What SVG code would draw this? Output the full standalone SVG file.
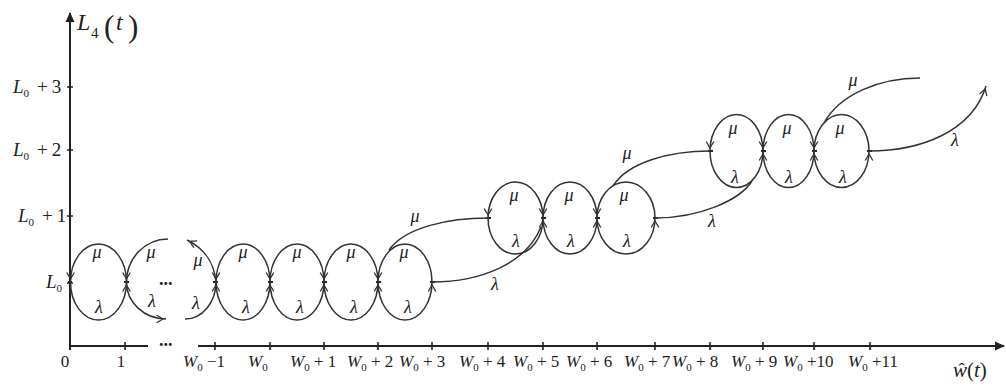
<svg xmlns="http://www.w3.org/2000/svg" width="1006" height="390" viewBox="0 0 1006 390" font-family="'Liberation Serif', 'Times New Roman', serif">
<style>
text{font-family:'Liberation Serif','Times New Roman',serif;fill:#222}
.it{font-style:italic}
.lab{font-size:17px}
.ylab{font-size:19px}
.sub{font-size:11px}
.gr{font-size:18px;font-style:italic}
.axis{stroke:#222;stroke-width:2;fill:none}
.tick{stroke:#222;stroke-width:1.6;fill:none}
.arc{stroke:#333;stroke-width:1.5;fill:none}
.arr{marker-end:url(#ah)}
.pt{stroke:#222;stroke-width:2;fill:none}
.dots{font-size:18px;font-weight:bold;font-style:normal}
</style>
<defs>
<marker id="ah" viewBox="-9 -5 12 10" refX="3" refY="0" markerWidth="12" markerHeight="10" markerUnits="userSpaceOnUse" orient="auto">
<path d="M-6.5,-3.8 L0,0 L-6.5,3.8" fill="none" stroke="#333" stroke-width="1.3"/>
</marker>
<marker id="axh" viewBox="0 0 10 10" refX="9" refY="5" markerWidth="11" markerHeight="10" markerUnits="userSpaceOnUse" orient="auto">
<path d="M0,0.5 L10,5 L0,9.5 Z" fill="#222"/>
</marker>
</defs>

<g id="axes">
<line class="axis" x1="70" y1="350" x2="70" y2="13" marker-end="url(#axh)"/>
<line class="axis" x1="70" y1="346" x2="148" y2="346"/>
<line class="axis" x1="198" y1="346" x2="1004" y2="346" marker-end="url(#axh)"/>
<text class="dots" x="159" y="346">...</text>
<g id="yticks">
<path class="tick" d="M67,87h6M67,150h6M67,216h6M67,283h6"/>
</g>
<g id="xticks">
<path class="tick" d="M70,342v8M125,342v8M215,342v8M270,342v8M324,342v8M378,342v8M432,342v8M488,342v8M543,342v8M597,342v8M655,342v8M710,342v8M763,342v8M814,342v8M870,342v8"/>
</g>
<text id="ylabel"><tspan x="77" y="30" class="it" font-size="24">L</tspan><tspan x="91" y="38" font-size="15">4</tspan><tspan x="104" y="37" font-size="31">(</tspan><tspan x="116" y="30" class="it" font-size="24">t</tspan><tspan x="128" y="37" font-size="31">)</tspan></text>
<text id="xlabel" x="953" y="377" font-size="21"><tspan class="it">ŵ</tspan><tspan>(</tspan><tspan class="it">t</tspan><tspan>)</tspan></text>
<g id="ylabels" class="ylab">
<text x="13" y="93"><tspan class="it">L</tspan><tspan class="sub" font-size="12" dy="4">0</tspan><tspan dy="-4" dx="8">+</tspan><tspan dx="4">3</tspan></text>
<text x="13" y="156"><tspan class="it">L</tspan><tspan class="sub" font-size="12" dy="4">0</tspan><tspan dy="-4" dx="8">+</tspan><tspan dx="4">2</tspan></text>
<text x="18" y="222"><tspan class="it">L</tspan><tspan class="sub" font-size="12" dy="4">0</tspan><tspan dy="-4" dx="8">+</tspan><tspan dx="4">1</tspan></text>
<text x="46" y="288"><tspan class="it">L</tspan><tspan class="sub" font-size="12" dy="4">0</tspan></text>
</g>
<g id="xlabels" class="lab">
<text x="65" y="367" text-anchor="middle">0</text>
<text x="121" y="367" text-anchor="middle">1</text>
<text x="183" y="367"><tspan class="it">W</tspan><tspan class="sub" dy="4">0</tspan><tspan dy="-4"> −1</tspan></text>
<text x="248" y="367"><tspan class="it">W</tspan><tspan class="sub" dy="4">0</tspan></text>
<text x="290" y="367"><tspan class="it">W</tspan><tspan class="sub" dy="4">0</tspan><tspan dy="-4"> + 1</tspan></text>
<text x="347" y="367"><tspan class="it">W</tspan><tspan class="sub" dy="4">0</tspan><tspan dy="-4"> + 2</tspan></text>
<text x="399" y="367"><tspan class="it">W</tspan><tspan class="sub" dy="4">0</tspan><tspan dy="-4"> + 3</tspan></text>
<text x="459" y="367"><tspan class="it">W</tspan><tspan class="sub" dy="4">0</tspan><tspan dy="-4"> + 4</tspan></text>
<text x="513" y="367"><tspan class="it">W</tspan><tspan class="sub" dy="4">0</tspan><tspan dy="-4"> + 5</tspan></text>
<text x="566" y="367"><tspan class="it">W</tspan><tspan class="sub" dy="4">0</tspan><tspan dy="-4"> + 6</tspan></text>
<text x="624" y="367"><tspan class="it">W</tspan><tspan class="sub" dy="4">0</tspan><tspan dy="-4"> + 7</tspan></text>
<text x="672" y="367"><tspan class="it">W</tspan><tspan class="sub" dy="4">0</tspan><tspan dy="-4"> + 8</tspan></text>
<text x="731" y="367"><tspan class="it">W</tspan><tspan class="sub" dy="4">0</tspan><tspan dy="-4"> + 9</tspan></text>
<text x="783" y="367"><tspan class="it">W</tspan><tspan class="sub" dy="4">0</tspan><tspan dy="-4"> +10</tspan></text>
<text x="848" y="367"><tspan class="it">W</tspan><tspan class="sub" dy="4">0</tspan><tspan dy="-4"> +11</tspan></text>
</g>
</g>

<g id="nodes">
<g id="s0"><path class="pt" d="M68,282h4"/></g>
<g id="s1"><path class="pt" d="M124,282h5"/></g>
<g id="sW0m1"><path class="pt" d="M213,282h5"/></g>
<g id="sW0"><path class="pt" d="M268,282h5"/></g>
<g id="sW0p1"><path class="pt" d="M322,282h5"/></g>
<g id="sW0p2"><path class="pt" d="M376,282h5"/></g>
<g id="sW0p3"><path class="pt" d="M430,282h5"/></g>
<g id="sW0p4"><path class="pt" d="M486,218h5"/></g>
<g id="sW0p5"><path class="pt" d="M541,218h5"/></g>
<g id="sW0p6"><path class="pt" d="M595,218h5"/></g>
<g id="sW0p7"><path class="pt" d="M653,218h5"/></g>
<g id="sW0p8"><path class="pt" d="M708,151h5"/></g>
<g id="sW0p9"><path class="pt" d="M761,151h5"/></g>
<g id="sW0p10"><path class="pt" d="M812,151h5"/></g>
<g id="sW0p11"><path class="pt" d="M867,151h5"/></g>
</g>

<g id="connectors">
<path class="arc arr" d="M126.5,282 A28,38 0 0 0 70.5,282"/>
<path class="arc arr" d="M70.5,282 A28,38 0 0 0 126.5,282"/>
<path class="arc arr" d="M168,239 A41.5,43 0 0 0 126.5,282"/>
<path class="arc arr" d="M126.5,282 A39.5,37 0 0 0 166,319"/>
<path class="arc arr" d="M216,282 C214,262 205,249 187,240"/>
<path class="arc arr" d="M185,319 A31,37 0 0 0 216,282"/>
<path class="arc arr" d="M270,282 A27,38 0 0 0 216,282"/>
<path class="arc arr" d="M216,282 A27,38 0 0 0 270,282"/>
<path class="arc arr" d="M324,282 A27,38 0 0 0 270,282"/>
<path class="arc arr" d="M270,282 A27,38 0 0 0 324,282"/>
<path class="arc arr" d="M378,282 A27,38 0 0 0 324,282"/>
<path class="arc arr" d="M324,282 A27,38 0 0 0 378,282"/>
<path class="arc arr" d="M432,282 A27,38 0 0 0 378,282"/>
<path class="arc arr" d="M378,282 A27,38 0 0 0 432,282"/>
<path class="arc" d="M488,218 C450,218 405,227 389,250"/>
<path class="arc" d="M432,282 C480,282 526,264 541,227"/>
<path class="arc arr" d="M543,218 A27.5,36 0 0 0 488,218"/>
<path class="arc arr" d="M488,218 A27.5,36 0 0 0 543,218"/>
<path class="arc arr" d="M597,218 A27,36 0 0 0 543,218"/>
<path class="arc arr" d="M543,218 A27,36 0 0 0 597,218"/>
<path class="arc arr" d="M655,218 A29,36 0 0 0 597,218"/>
<path class="arc arr" d="M597,218 A29,36 0 0 0 655,218"/>
<path class="arc" d="M710,151 C670,151 628,162 613,186"/>
<path class="arc" d="M655,218 C700,218 740,200 752,181"/>
<path class="arc arr" d="M763,151 A26.5,36.5 0 0 0 710,151"/>
<path class="arc arr" d="M710,151 A26.5,36.5 0 0 0 763,151"/>
<path class="arc arr" d="M814,151 A25.5,36.5 0 0 0 763,151"/>
<path class="arc arr" d="M763,151 A25.5,36.5 0 0 0 814,151"/>
<path class="arc arr" d="M869,151 A27.5,36.5 0 0 0 814,151"/>
<path class="arc arr" d="M814,151 A27.5,36.5 0 0 0 869,151"/>
<path class="arc" d="M920,78 C880,78 840,94 824,123"/>
<path class="arc arr" d="M869,151 C920,151 972,132 986,86"/>
</g>

<g id="rates" class="gr">
<text class="dots" x="159" y="285">...</text>
<text x="97" y="258" text-anchor="middle">μ</text>
<text x="99" y="313" text-anchor="middle">λ</text>
<text x="151" y="258" text-anchor="middle">μ</text>
<text x="152" y="307" text-anchor="middle">λ</text>
<text x="198" y="266" text-anchor="middle">μ</text>
<text x="196" y="309" text-anchor="middle">λ</text>
<text x="243" y="258" text-anchor="middle">μ</text>
<text x="246" y="313" text-anchor="middle">λ</text>
<text x="297" y="258" text-anchor="middle">μ</text>
<text x="300" y="313" text-anchor="middle">λ</text>
<text x="351" y="258" text-anchor="middle">μ</text>
<text x="354" y="313" text-anchor="middle">λ</text>
<text x="404" y="258" text-anchor="middle">μ</text>
<text x="408" y="313" text-anchor="middle">λ</text>
<text x="415" y="222" text-anchor="middle">μ</text>
<text x="495" y="290" text-anchor="middle">λ</text>
<text x="514" y="201" text-anchor="middle">μ</text>
<text x="516" y="247" text-anchor="middle">λ</text>
<text x="569" y="201" text-anchor="middle">μ</text>
<text x="571" y="247" text-anchor="middle">λ</text>
<text x="624" y="201" text-anchor="middle">μ</text>
<text x="627" y="247" text-anchor="middle">λ</text>
<text x="627" y="159" text-anchor="middle">μ</text>
<text x="712" y="227" text-anchor="middle">λ</text>
<text x="733" y="134" text-anchor="middle">μ</text>
<text x="735" y="183" text-anchor="middle">λ</text>
<text x="787" y="134" text-anchor="middle">μ</text>
<text x="789" y="183" text-anchor="middle">λ</text>
<text x="840" y="134" text-anchor="middle">μ</text>
<text x="843" y="183" text-anchor="middle">λ</text>
<text x="853" y="86" text-anchor="middle">μ</text>
<text x="955" y="146" text-anchor="middle">λ</text>
</g>
</svg>
